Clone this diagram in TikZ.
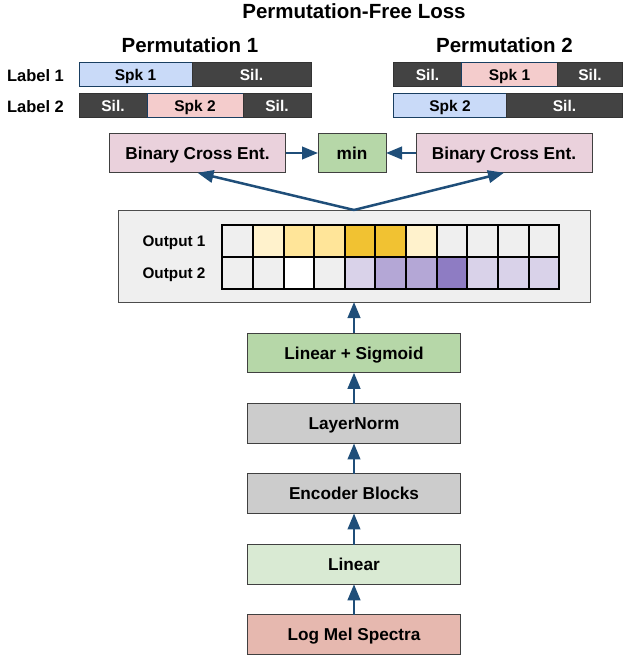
\documentclass[tikz,border=0pt]{standalone}
\usepackage{fontspec}
\setmainfont{Liberation Sans}
\usetikzlibrary{arrows.meta}
\usetikzlibrary{positioning}

\definecolor{flowblue}{HTML}{1F4E79}
\definecolor{silgray}{HTML}{434343}
\definecolor{spkblue}{HTML}{C9DAF8}
\definecolor{spkpink}{HTML}{F4CCCC}
\definecolor{bcepink}{HTML}{EAD1DC}
\definecolor{mingreen}{HTML}{B6D7A8}
\definecolor{normgray}{HTML}{CCCCCC}
\definecolor{lingreen}{HTML}{D9EAD3}
\definecolor{melred}{HTML}{E6B8AF}
\definecolor{outgray}{HTML}{EFEFEF}
\definecolor{ya}{HTML}{FFF2CC}
\definecolor{yb}{HTML}{FFE599}
\definecolor{yc}{HTML}{F1C232}
\definecolor{pa}{HTML}{D9D2E9}
\definecolor{pb}{HTML}{B4A7D6}
\definecolor{pc}{HTML}{8E7CC3}

\tikzset{
  flow/.style={-{Triangle[length=16pt,width=12.5pt]}, line width=2.5pt, flowblue},
  layer/.style={draw=black!75, line width=1pt, outer sep=0pt, inner sep=0pt,
    minimum width=213pt, minimum height=39.5pt, text height=12.2pt, text depth=0pt,
    font=\fontsize{17.2}{20}\selectfont\bfseries},
  seg/.style={draw=black!80, line width=1pt, outer sep=0pt, inner sep=0pt, anchor=west,
    minimum height=24pt, text height=11pt, text depth=0pt,
    font=\fontsize{15.5}{18}\selectfont\bfseries},
  spk/.style={seg, draw=flowblue!80!black},
  sil/.style={seg, fill=silgray, text=white},
  cell/.style={draw=black, line width=2pt, minimum width=30.64pt, minimum height=32pt, inner sep=0pt},
  heading/.style={anchor=base, font=\fontsize{20.5}{24}\selectfont\bfseries},
  rowlabel/.style={anchor=base, font=\fontsize{16.5}{20}\selectfont\bfseries},
}

\begin{document}
\begin{tikzpicture}[x=1pt,y=-1pt]
\useasboundingbox (0,0) rectangle (624,660);

\node[heading] (title) at (354,19) {Permutation-Free Loss};
\node[heading] (perm1) at (190,53) {Permutation 1};
\node[heading] (perm2) at (504.5,53) {Permutation 2};

\node[rowlabel] (lab1) at (35.5,81.5) {Label 1};
\node[rowlabel] (lab2) at (35.5,112.5) {Label 2};

% permutation 1
\node[spk, fill=spkblue, minimum width=113pt] (p1a) at (79,75) {Spk 1};
\node[sil, minimum width=119pt, right=0pt of p1a] (p1b) {Sil.};
\node[sil, minimum width=68pt] (p1c) at (79,106) {Sil.};
\node[spk, fill=spkpink, minimum width=96pt, right=0pt of p1c] (p1d) {Spk 2};
\node[sil, minimum width=68pt, right=0pt of p1d] (p1e) {Sil.};

% permutation 2
\node[sil, minimum width=68pt] (p2a) at (393.5,75) {Sil.};
\node[spk, fill=spkpink, minimum width=96pt, right=0pt of p2a] (p2b) {Spk 1};
\node[sil, minimum width=65pt, right=0pt of p2b] (p2c) {Sil.};
\node[spk, fill=spkblue, minimum width=113pt] (p2d) at (393.5,106) {Spk 2};
\node[sil, minimum width=116pt, right=0pt of p2d] (p2e) {Sil.};

% loss
\node[layer, fill=bcepink, minimum width=176pt] (bce1) at (197.5,153) {Binary Cross Ent.};
\node[layer, fill=bcepink, minimum width=176pt] (bce2) at (504,153) {Binary Cross Ent.};
\node[layer, fill=mingreen, minimum width=68pt] (minbox) at (352,153) {min};

% outputs
\node[draw=black!70, line width=1pt, fill=outgray, outer sep=0pt,
  minimum width=472pt, minimum height=92pt] (outbox) at (354,256) {};
\foreach \c [count=\i from 0] in {outgray,ya,yb,yb,yc,yc,ya,outgray,outgray,outgray,outgray}
  \node[cell, fill=\c] (oa\i) at (237.6+30.64*\i,241) {};
\foreach \c [count=\i from 0] in {outgray,outgray,white,outgray,pa,pb,pb,pc,pa,pa,pa}
  \node[cell, fill=\c] (ob\i) at (237.6+30.64*\i,273) {};
\node[anchor=east, text height=11pt, text depth=0pt, font=\fontsize{15.3}{18}\selectfont\bfseries] (out1) at (209,240.5) {Output 1};
\node[anchor=east, text height=11pt, text depth=0pt, font=\fontsize{15.3}{18}\selectfont\bfseries] (out2) at (209,272.5) {Output 2};

% model
\node[layer, fill=mingreen] (sigm) at (354,353) {Linear + Sigmoid};
\node[layer, fill=normgray] (norm) at (354,423.7) {LayerNorm};
\node[layer, fill=normgray] (enc) at (354,493.7) {Encoder Blocks};
\node[layer, fill=lingreen] (lin) at (354,564.5) {Linear};
\node[layer, fill=melred] (mel) at (354,634.7) {Log Mel Spectra};

\draw[flow] (mel) -- (lin);
\draw[flow] (lin) -- (enc);
\draw[flow] (enc) -- (norm);
\draw[flow] (norm) -- (sigm);
\draw[flow] (sigm) -- (outbox);
\draw[flow] (outbox.north) -- (bce1.south);
\draw[flow] (outbox.north) -- (bce2.south);
\draw[flow] (bce1) -- (minbox);
\draw[flow] (bce2) -- (minbox);

\end{tikzpicture}
\end{document}
